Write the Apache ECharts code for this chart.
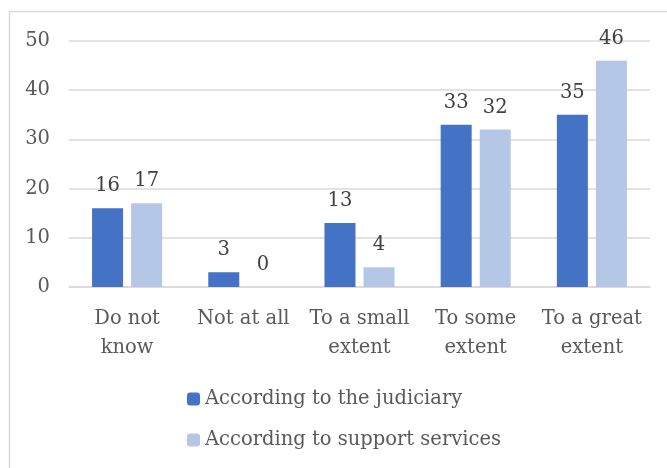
<!DOCTYPE html>
<html><head><meta charset="utf-8">
<script src="https://cdn.jsdelivr.net/npm/echarts@6/dist/echarts.min.js"></script>
<style>html,body{margin:0;padding:0;background:#fff}#c{width:667px;height:468px}</style>
</head><body><div id="c"></div>
<script>
var categories = ["Do not\nknow", "Not at all", "To a small\nextent", "To some\nextent", "To a great\nextent"];
var judiciary = [16, 3, 13, 33, 35];
var support = [17, 0, 4, 32, 46];
var seriesNames = ["According to the judiciary", "According to support services"];
var yTicks = [0, 10, 20, 30, 40, 50];

var font = "DejaVu Serif";
var fs = 19.5;
var txt = "#595959";
var chart = echarts.init(document.getElementById('c'));
chart.setOption({
  animation: false,
  graphic: [{type:'rect', shape:{x:9.5, y:11.5, width:700, height:500}, style:{fill:'none', stroke:'#d9d9d9', lineWidth:1.5}, silent:true}],
  grid: {left:69, right:17, top:41, bottom:181},
  legend: {
    orient:'vertical', left:182, top:384, itemWidth:13, itemHeight:13, itemGap:21,
    textStyle:{fontFamily:font, fontSize:fs, color:txt},
    data: seriesNames
  },
  xAxis: {
    type:'category', data:categories,
    axisLine:{lineStyle:{color:'#d9d9d9', width:1.5}}, axisTick:{show:false},
    axisLabel:{fontFamily:font, fontSize:fs, color:txt, margin:17, lineHeight:29, interval:0}
  },
  yAxis: {
    type:'value', min:0, max:50, interval:10,
    axisLine:{show:false}, axisTick:{show:false},
    splitLine:{lineStyle:{color:'#d9d9d9', width:1.5}},
    axisLabel:{fontFamily:font, fontSize:fs, color:txt, margin:19}
  },
  series: [
    {name:seriesNames[0], type:'bar', data:judiciary, barWidth:31, barGap:'26%', itemStyle:{color:'#4472C4'},
     label:{show:true, position:'top', distance:12, fontFamily:font, fontSize:fs, color:'#404040'}},
    {name:seriesNames[1], type:'bar', data:support, barWidth:31, itemStyle:{color:'#B4C7E7'},
     label:{show:true, position:'top', distance:12, fontFamily:font, fontSize:fs, color:'#404040'}}
  ]
});
</script></body></html>
